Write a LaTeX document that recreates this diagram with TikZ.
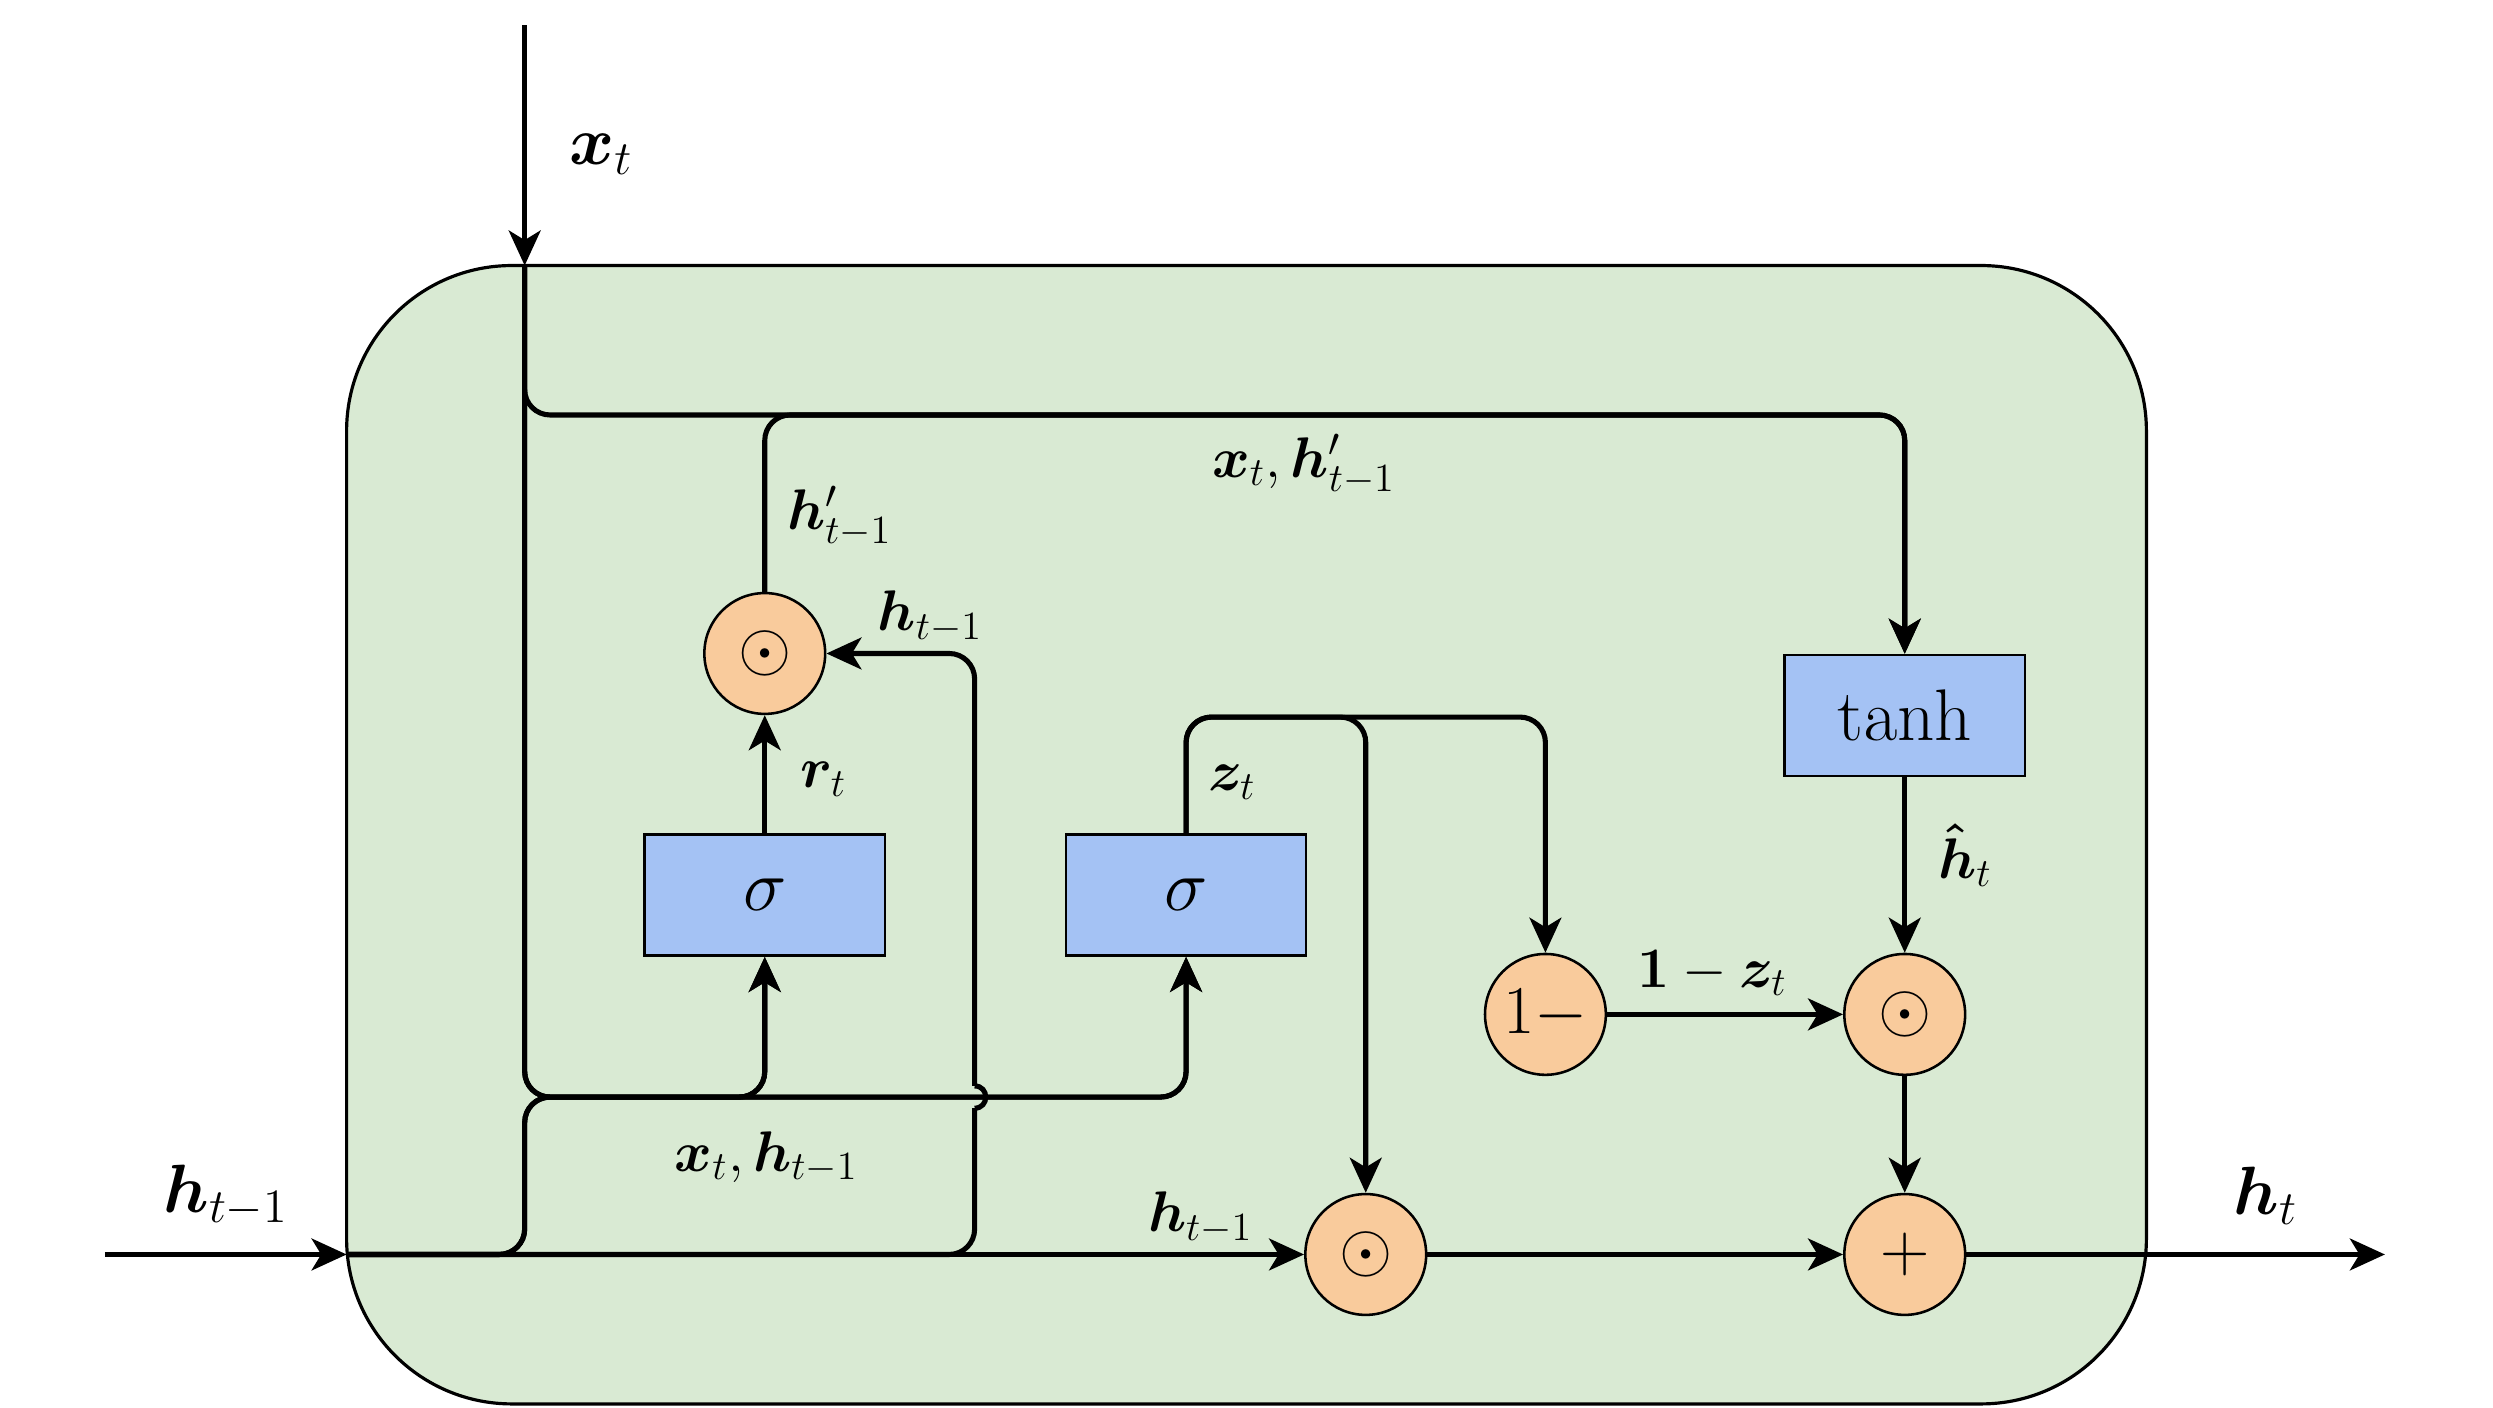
\RequirePackage{fix-cm}
\documentclass[tikz,border=0pt]{standalone}
\usepackage{bm}
\usetikzlibrary{arrows.meta,calc}
\definecolor{cellgreen}{HTML}{D9EAD3}
\definecolor{gateblue}{HTML}{A4C2F4}
\definecolor{oporange}{HTML}{F9CB9C}
\newcommand{\boxfont}{\fontsize{23}{27}\selectfont}
\newcommand{\opfont}{\fontsize{21.5}{25}\selectfont}
\newcommand{\lblfont}{\fontsize{18}{22}\selectfont}
\newcommand{\biglblfont}{\fontsize{21.5}{25}\selectfont}
\begin{document}
\begin{tikzpicture}[x=0.5pt,y=-0.5pt,
  wire/.style={line width=1.6pt},
  conn/.style={wire, rounded corners=8pt},
  arr/.style={-{Stealth[length=11pt,width=10pt,inset=3pt]}},
  gate/.style={draw, line width=0.8pt, fill=gateblue, minimum width=75.5pt, minimum height=38pt, inner sep=0pt, font=\boxfont},
  op/.style={draw, circle, line width=0.8pt, fill=oporange, minimum size=38pt, inner sep=0pt, font=\opfont},
  lbl/.style={inner sep=0pt, font=\lblfont},
  biglbl/.style={inner sep=0pt, font=\biglblfont}]
\useasboundingbox (0,0) rectangle (1568,885);
% cell
\node[draw, line width=1pt, fill=cellgreen, rounded corners=52pt, minimum width=566pt, minimum height=358pt, inner sep=0pt] (cell) at (784,525) {};
% blocks
\node[gate] (s1) at (481,563) {$\sigma$};
\node[gate] (s2) at (746,563) {$\sigma$};
\node[gate] (th) at (1198,450) {$\tanh$};
\node[op] (m1) at (481,411) {$\odot$};
\node[op] (om) at (972,638) {$1-$};
\node[op] (m2) at (1198,638) {$\odot$};
\node[op] (m3) at (859,789) {$\odot$};
\node[op] (pl) at (1198,789) {$+$};
% coordinates
\coordinate (xin) at (330,16);
\coordinate (xtop) at (330,167);
\coordinate (hin) at (66,789);
\coordinate (hleft) at (218,789);
\coordinate (hout) at (1500,789);
\coordinate (topy) at (0,261);
\coordinate (boty) at (0,690);
\coordinate (zy) at (0,451);
\coordinate (jlo) at (613,697);
\coordinate (jhi) at (613,683);
% connectors
\draw[conn,arr] (xin) -- (xtop);
\draw[conn,arr] (hin) -- (hleft);
\draw[conn,arr] (xtop) |- (th.north |- topy) -- (th.north);
\draw[conn,arr] (m1.north) |- (th.north |- topy) -- (th.north);
\draw[conn,arr] (s1.north) -- (m1.south);
\draw[conn,arr] (xtop) |- (s1.south |- boty) -- (s1.south);
\draw[conn,arr] (xtop) |- (s2.south |- boty) -- (s2.south);
\draw[conn,arr] (hleft) -| (xtop |- boty) -| (s1.south);
\draw[conn,arr] (hleft) -| (xtop |- boty) -| (s2.south);
\draw[conn] (hleft) -| (jlo);
\draw[wire] (jlo) .. controls (622.3,697) and (622.3,683) .. (jhi);
\draw[conn,arr] (jhi) |- (m1.east);
\draw[conn,arr] (hleft) -- (m3.west);
\draw[conn,arr] (s2.north) |- (om.north |- zy) -- (om.north);
\draw[conn,arr] (s2.north) |- (m3.north |- zy) -- (m3.north);
\draw[conn,arr] (th.south) -- (m2.north);
\draw[conn,arr] (om.east) -- (m2.west);
\draw[conn,arr] (m2.south) -- (pl.north);
\draw[conn,arr] (m3.east) -- (pl.west);
\draw[conn,arr] (pl.east) -- (hout);
% labels
\node[biglbl] (lxt) at (378,97) {$\bm{x}_t$};
\node[biglbl] (lhin) at (142,752) {$\bm{h}_{t-1}$};
\node[biglbl] (lht) at (1425,752) {$\bm{h}_t$};
\node[lbl] (lhp) at (528,325) {$\bm{h}'_{t-1}$};
\node[lbl] (lhm1) at (585,388) {$\bm{h}_{t-1}$};
\node[lbl] (lxhp) at (820,292) {$\bm{x}_t, \bm{h}'_{t-1}$};
\node[lbl] (lrt) at (518,490) {$\bm{r}_t$};
\node[lbl] (lzt) at (775,492) {$\bm{z}_t$};
\node[lbl] (lhh) at (1236,538) {$\bm{\hat{h}}_t$};
\node[lbl] (lomz) at (1077,612) {$\mathbf{1}-\bm{z}_t$};
\node[lbl] (lxh) at (482,728) {$\bm{x}_t, \bm{h}_{t-1}$};
\node[lbl] (lhm3) at (755,766) {$\bm{h}_{t-1}$};
\end{tikzpicture}
\end{document}
